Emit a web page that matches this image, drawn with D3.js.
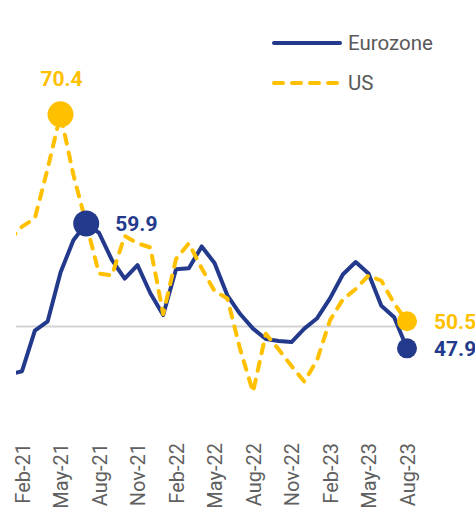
<!DOCTYPE html>
<html>
<head>
<meta charset="utf-8">
<script src="https://cdn.jsdelivr.net/npm/d3@7"></script>
<style>
  html, body { margin: 0; padding: 0; background: #fff; }
  svg { display: block; font-family: Roboto, "Liberation Sans", sans-serif; }
</style>
</head>
<body>
<svg id="chart" width="475" height="507"></svg>
<script>
// monthly PMI readings, Jan-21 .. Aug-23
const months = [
  "Jan-21","Feb-21","Mar-21","Apr-21","May-21","Jun-21","Jul-21","Aug-21","Sep-21","Oct-21","Nov-21","Dec-21",
  "Jan-22","Feb-22","Mar-22","Apr-22","May-22","Jun-22","Jul-22","Aug-22","Sep-22","Oct-22","Nov-22","Dec-22",
  "Jan-23","Feb-23","Mar-23","Apr-23","May-23","Jun-23","Jul-23","Aug-23"
];
const eurozone = [
  45.4, 45.7, 49.6, 50.5, 55.2, 58.3, 59.9, 59.0, 56.4, 54.6, 55.9, 53.2,
  51.1, 55.5, 55.6, 57.7, 56.1, 53.0, 51.2, 49.8, 48.8, 48.6, 48.5, 49.8,
  50.8, 52.7, 55.0, 56.2, 55.1, 52.0, 50.9, 47.9
];
const us = [
  58.3, 59.6, 60.4, 65.2, 70.4, 64.6, 59.9, 55.1, 54.9, 58.7, 58.0, 57.6,
  51.2, 56.5, 58.0, 55.6, 53.4, 52.7, 47.8, 43.7, 49.3, 47.8, 46.2, 44.7,
  46.8, 50.6, 52.6, 53.6, 54.9, 54.4, 52.2, 50.5
];
const tickLabels = ["Feb-21","May-21","Aug-21","Nov-21","Feb-22","May-22","Aug-22","Nov-22","Feb-23","May-23","Aug-23"];
const seriesNames = ["Eurozone", "US"];
const refLevel = 50;
// highlighted points: [series, month]
const peakMarks = [["US", "May-21"], ["Eurozone", "Jul-21"]];
const endMarks = [["US", "Aug-23"], ["Eurozone", "Aug-23"]];

const colors = { Eurozone: "#233a8c", US: "#ffc000" };
const values = { Eurozone: eurozone, US: us };

const svg = d3.select("#chart");
const plotLeft = 16;

const x = d3.scalePoint().domain(months).range([9.2, 407]);
const y = d3.scaleLinear().domain([40, 72]).range([430.5, 97.7]);

svg.append("defs").append("clipPath").attr("id", "clip")
  .append("rect").attr("x", plotLeft).attr("y", 0).attr("width", 475 - plotLeft).attr("height", 507);

// reference line at 50
svg.append("line")
  .attr("x1", plotLeft).attr("x2", 410)
  .attr("y1", y(refLevel)).attr("y2", y(refLevel))
  .attr("stroke", "#d3d3d3").attr("stroke-width", 2);

const line = d3.line().x((d, i) => x(months[i])).y(d => y(d));

const plot = svg.append("g").attr("clip-path", "url(#clip)");
plot.append("path").datum(eurozone)
  .attr("d", line).attr("fill", "none")
  .attr("stroke", colors.Eurozone).attr("stroke-width", 4)
  .attr("stroke-linejoin", "round");
plot.append("path").datum(us)
  .attr("d", line).attr("fill", "none")
  .attr("stroke", colors.US).attr("stroke-width", 4)
  .attr("stroke-dasharray", "9,9").attr("stroke-linecap", "round")
  .attr("stroke-linejoin", "round");

// x axis, rotated labels
const axis = svg.append("g").attr("transform", "translate(0,443)")
  .call(d3.axisBottom(x).tickValues(tickLabels).tickSize(0).tickPadding(0));
axis.select(".domain").remove();
axis.selectAll("text")
  .attr("transform", "rotate(-90)")
  .attr("text-anchor", "end")
  .attr("x", 0).attr("y", 0).attr("dy", "0.35em")
  .attr("fill", "#606060")
  .style("font-size", "20px")
  .style("font-family", "Roboto, sans-serif");

// highlight dots and labels
function valueAt(s, m) { return values[s][months.indexOf(m)]; }

peakMarks.forEach(([s, m]) => {
  const v = valueAt(s, m);
  svg.append("circle").attr("cx", x(m)).attr("cy", y(v)).attr("r", 13).attr("fill", colors[s]);
});
endMarks.forEach(([s, m]) => {
  const v = valueAt(s, m);
  svg.append("circle").attr("cx", x(m)).attr("cy", y(v)).attr("r", 10).attr("fill", colors[s]);
});

const labelStyle = sel => sel.style("font-size", "21px").style("font-weight", "bold");

// US peak label above the dot
{
  const [s, m] = peakMarks[0];
  const v = valueAt(s, m);
  svg.append("text").attr("x", x(m) + 1).attr("y", y(v) - 28)
    .attr("text-anchor", "middle").attr("fill", colors[s])
    .text(v.toFixed(1)).call(labelStyle);
}
// Eurozone peak label right of the dot
{
  const [s, m] = peakMarks[1];
  const v = valueAt(s, m);
  svg.append("text").attr("x", x(m) + 29).attr("y", y(v))
    .attr("dy", "0.35em").attr("fill", colors[s])
    .text(v.toFixed(1)).call(labelStyle);
}
endMarks.forEach(([s, m]) => {
  const v = valueAt(s, m);
  svg.append("text").attr("x", x(m) + 27).attr("y", y(v))
    .attr("dy", "0.35em").attr("fill", colors[s])
    .text(v.toFixed(1)).call(labelStyle);
});

// legend
const legend = svg.append("g").attr("transform", "translate(272,43)");
seriesNames.forEach((name, i) => {
  const g = legend.append("g").attr("transform", `translate(0,${i * 40})`);
  g.append("line").attr("x1", 2).attr("x2", 68).attr("y1", 0).attr("y2", 0)
    .attr("stroke", colors[name]).attr("stroke-width", 4)
    .attr("stroke-linecap", "round")
    .attr("stroke-dasharray", name === "US" ? "9,9" : null);
  g.append("text").attr("x", 76).attr("y", 0).attr("dy", "0.35em")
    .attr("fill", "#595959").style("font-size", "20.5px")
    .text(name);
});
</script>
</body>
</html>
